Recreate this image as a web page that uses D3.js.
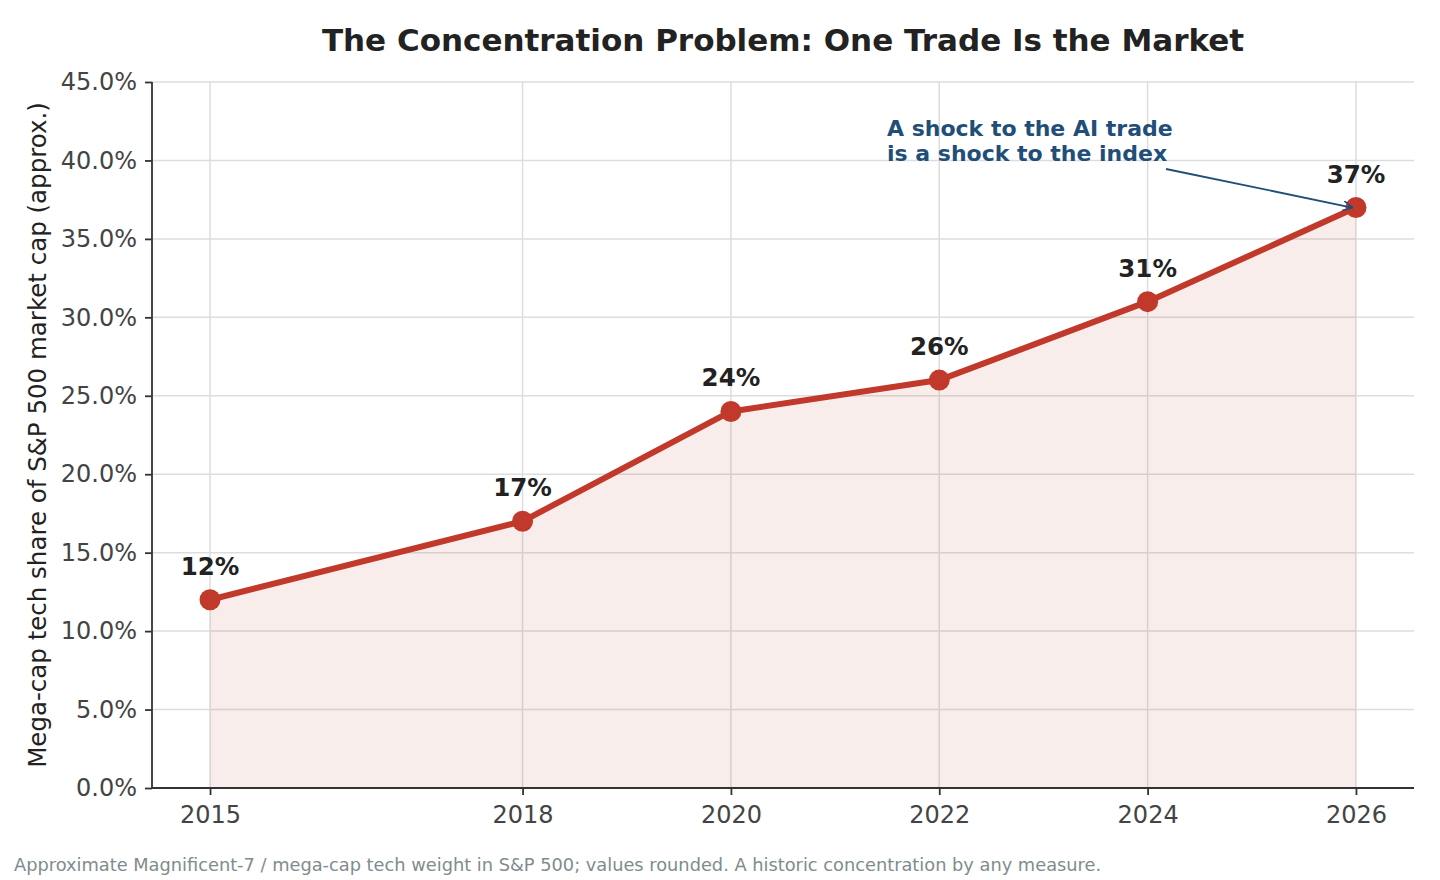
<!DOCTYPE html>
<html>
<head>
<meta charset="utf-8">
<script src="https://cdn.jsdelivr.net/npm/d3@7"></script>
<style>
  body { margin: 0; background: #fff; }
  svg text { font-family: "DejaVu Sans", sans-serif; }
</style>
</head>
<body>
<div id="canvas"></div>
<script>
"use strict"

let svgWidth = 1440;
let svgHeight = 880;

let marginLeft = 152;
let marginRight = 26;
let marginTop = 82;
let marginBottom = 92;

// data
let years = [2015, 2018, 2020, 2022, 2024, 2026];
let shares = [12, 17, 24, 26, 31, 37];
let yTicks = [0, 5, 10, 15, 20, 25, 30, 35, 40, 45];

let lineColor = "#c0392b";
let axisColor = "#333333";
let gridColor = "#dddddd";
let noteColor = "#1f4e79";

let svg = d3.select("#canvas")
    .append("svg")
    .attr("width", svgWidth)
    .attr("height", svgHeight);

let xScale = d3.scaleLinear()
    .domain([2014.443, 2026.557])
    .range([marginLeft, svgWidth - marginRight]);

let yScale = d3.scaleLinear()
    .domain([0, 45])
    .range([788, marginTop]);

let plotBottom = yScale(0);

/* grid */
svg.append("g")
    .selectAll("line")
    .data(yTicks)
    .join("line")
    .attr("x1", marginLeft)
    .attr("x2", svgWidth - marginRight)
    .attr("y1", d => yScale(d))
    .attr("y2", d => yScale(d))
    .attr("stroke", gridColor)
    .attr("stroke-width", 1.5);

svg.append("g")
    .selectAll("line")
    .data(years)
    .join("line")
    .attr("x1", d => xScale(d))
    .attr("x2", d => xScale(d))
    .attr("y1", marginTop)
    .attr("y2", plotBottom)
    .attr("stroke", gridColor)
    .attr("stroke-width", 1.5);

/* area under line */
let area = d3.area()
    .x((d, i) => xScale(years[i]))
    .y0(plotBottom)
    .y1(d => yScale(d));

svg.append("path")
    .datum(shares)
    .attr("d", area)
    .attr("fill", lineColor)
    .attr("fill-opacity", 0.09);

/* axes */
let xAxis = svg.append("g")
    .attr("transform", "translate(0," + plotBottom + ")")
    .call(d3.axisBottom(xScale).tickValues(years).tickFormat(d3.format("d")).tickSize(7).tickPadding(11));

let yAxis = svg.append("g")
    .attr("transform", "translate(" + marginLeft + ",0)")
    .call(d3.axisLeft(yScale).tickValues(yTicks).tickFormat(d => d.toFixed(1) + "%").tickSize(7).tickPadding(8));

[xAxis, yAxis].forEach(function(ax) {
    ax.select(".domain").attr("stroke", axisColor).attr("stroke-width", 1.8);
    ax.selectAll(".tick line").attr("stroke", axisColor).attr("stroke-width", 1.8);
    ax.selectAll(".tick text")
        .attr("fill", "#444444")
        .attr("font-size", 24)
        .attr("font-family", "DejaVu Sans, sans-serif");
});
xAxis.select(".domain").attr("d", "M" + marginLeft + ",0H" + (svgWidth - marginRight));
yAxis.select(".domain").attr("d", "M0," + marginTop + "V" + plotBottom);

/* line + markers */
let line = d3.line()
    .x((d, i) => xScale(years[i]))
    .y(d => yScale(d));

svg.append("path")
    .datum(shares)
    .attr("d", line)
    .attr("fill", "none")
    .attr("stroke", lineColor)
    .attr("stroke-width", 6)
    .attr("stroke-linejoin", "round");

svg.append("g")
    .selectAll("circle")
    .data(shares)
    .join("circle")
    .attr("cx", (d, i) => xScale(years[i]))
    .attr("cy", d => yScale(d))
    .attr("r", 10.5)
    .attr("fill", lineColor);

svg.append("g")
    .selectAll("text")
    .data(shares)
    .join("text")
    .attr("x", (d, i) => xScale(years[i]))
    .attr("y", d => yScale(d) - 25)
    .attr("text-anchor", "middle")
    .attr("font-size", 24.5)
    .attr("font-weight", "bold")
    .attr("fill", "#222222")
    .text(d => d + "%");

/* annotation */
let defs = svg.append("defs");
defs.append("marker")
    .attr("id", "arrow")
    .attr("viewBox", "0 0 10 10")
    .attr("refX", 9)
    .attr("refY", 5)
    .attr("markerWidth", 10)
    .attr("markerHeight", 10)
    .attr("markerUnits", "userSpaceOnUse")
    .attr("orient", "auto")
    .append("path")
    .attr("d", "M0,0L10,5L0,10")
    .attr("fill", "none")
    .attr("stroke", noteColor)
    .attr("stroke-width", 1.6);

svg.append("line")
    .attr("x1", 1166)
    .attr("y1", 169)
    .attr("x2", xScale(2026) - 4)
    .attr("y2", yScale(37))
    .attr("stroke", noteColor)
    .attr("stroke-width", 1.8)
    .attr("marker-end", "url(#arrow)");

let note = svg.append("text")
    .attr("x", 887)
    .attr("y", 136)
    .attr("font-size", 22)
    .attr("font-weight", "bold")
    .attr("fill", noteColor);
note.append("tspan").attr("x", 887).text("A shock to the AI trade");
note.append("tspan").attr("x", 887).attr("dy", 24.5).text("is a shock to the index");

/* title and labels */
svg.append("text")
    .attr("x", (marginLeft + svgWidth - marginRight) / 2)
    .attr("y", 51)
    .attr("text-anchor", "middle")
    .attr("font-size", 31)
    .attr("font-weight", "bold")
    .attr("fill", "#222222")
    .text("The Concentration Problem: One Trade Is the Market");

svg.append("text")
    .attr("transform", "rotate(-90)")
    .attr("x", -(marginTop + plotBottom) / 2)
    .attr("y", 46)
    .attr("text-anchor", "middle")
    .attr("font-size", 24.5)
    .attr("fill", "#222222")
    .text("Mega-cap tech share of S&P 500 market cap (approx.)");

svg.append("text")
    .attr("x", 14)
    .attr("y", 871)
    .attr("font-size", 17.8)
    .attr("fill", "#7f8c8d")
    .text("Approximate Magnificent-7 / mega-cap tech weight in S&P 500; values rounded. A historic concentration by any measure.");
</script>
</body>
</html>
